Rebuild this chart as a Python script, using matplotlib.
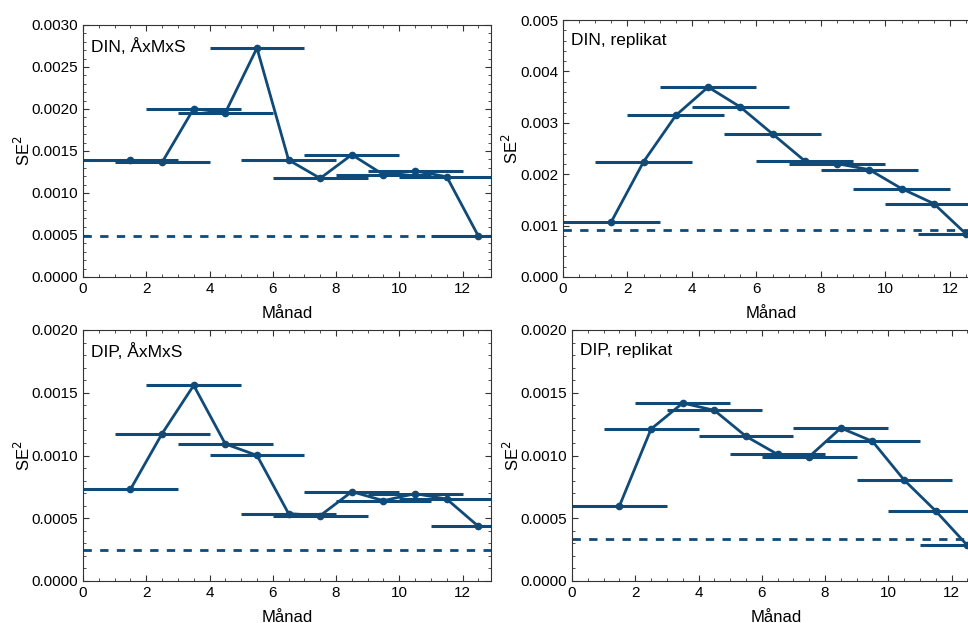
import matplotlib
matplotlib.use("Agg")
import matplotlib.pyplot as plt
from matplotlib.ticker import AutoMinorLocator, FormatStrFormatter

plt.rcParams['font.family'] = ['Liberation Sans', 'DejaVu Sans']

# manadsmitt for varje 3-manadersfonster
manad = [1.5, 2.5, 3.5, 4.5, 5.5, 6.5, 7.5, 8.5, 9.5, 10.5, 11.5, 12.5]
halvbredd = 1.5

din_axmxs = [0.00139, 0.001365, 0.002004, 0.001956, 0.002726, 0.001393,
             0.001175, 0.001456, 0.001218, 0.001262, 0.001194, 0.000488]
din_replikat = [0.001077, 0.002244, 0.003145, 0.003696, 0.003307, 0.002782,
                0.002257, 0.002205, 0.002088, 0.001719, 0.001427, 0.000837]
dip_axmxs = [0.00073, 0.001174, 0.001559, 0.001092, 0.001001, 0.000537,
             0.000521, 0.000712, 0.00064, 0.000696, 0.000653, 0.000436]
dip_replikat = [0.000598, 0.001211, 0.001418, 0.00136, 0.001153, 0.001009,
                0.000991, 0.001219, 0.001113, 0.000805, 0.000558, 0.000284]

# helarsnivaer (streckad linje)
din_axmxs_ar = 0.00049
din_replikat_ar = 0.000908
dip_axmxs_ar = 0.000247
dip_replikat_ar = 0.000332

titlar = ["DIN, ÅxMxS", "DIN, replikat", "DIP, ÅxMxS", "DIP, replikat"]
ymax = [0.0030, 0.005, 0.0020, 0.0020]
ysteg = [0.0005, 0.001, 0.0005, 0.0005]
yformat = ["%.4f", "%.3f", "%.4f", "%.4f"]

farg = "#0f4a78"
W, H = 968, 623

fig = plt.figure(figsize=(W / 100, H / 100), dpi=100)

# axlar i pixlar: vanster, topp, hoger, botten
rutor = [(83, 25, 491, 277), (563, 20, 979, 277),
         (83, 330, 491, 581), (572, 330, 980, 581)]

serier = [din_axmxs, din_replikat, dip_axmxs, dip_replikat]
nivaer = [din_axmxs_ar, din_replikat_ar, dip_axmxs_ar, dip_replikat_ar]

for i in range(4):
    l, t, r, b = rutor[i]
    ax = fig.add_axes([l / W, 1 - b / H, (r - l) / W, (b - t) / H])
    y = serier[i]

    ax.hlines(y, [m - halvbredd for m in manad], [m + halvbredd for m in manad],
              color=farg, lw=2.2)
    ax.plot(manad, y, color=farg, lw=2, marker="o", ms=4.5)
    ax.axhline(nivaer[i], color=farg, lw=2, ls=(0, (3, 3)))

    ax.set_xlim(0, 12.9)
    ax.set_ylim(0, ymax[i])
    ax.set_xticks(range(0, 13, 2))
    ax.set_yticks([k * ysteg[i] for k in range(int(round(ymax[i] / ysteg[i])) + 1)])
    ax.yaxis.set_major_formatter(FormatStrFormatter(yformat[i]))
    ax.xaxis.set_minor_locator(AutoMinorLocator(4))
    ax.yaxis.set_minor_locator(AutoMinorLocator(5))
    ax.tick_params(which="both", direction="in", top=True, right=True,
                   labelsize=11, colors="#333333", labelcolor="black")
    ax.tick_params(which="major", length=4)
    ax.tick_params(which="minor", length=2)
    for s in ax.spines.values():
        s.set_color("#333333")

    ax.set_xlabel("Månad", fontsize=12, labelpad=7)
    ax.set_ylabel("SE$^2$", fontsize=12, labelpad=-1)
    ax.text(0.02, 0.95, titlar[i], transform=ax.transAxes, fontsize=12.5,
            va="top", ha="left")

fig.savefig("out.png", dpi=100)
